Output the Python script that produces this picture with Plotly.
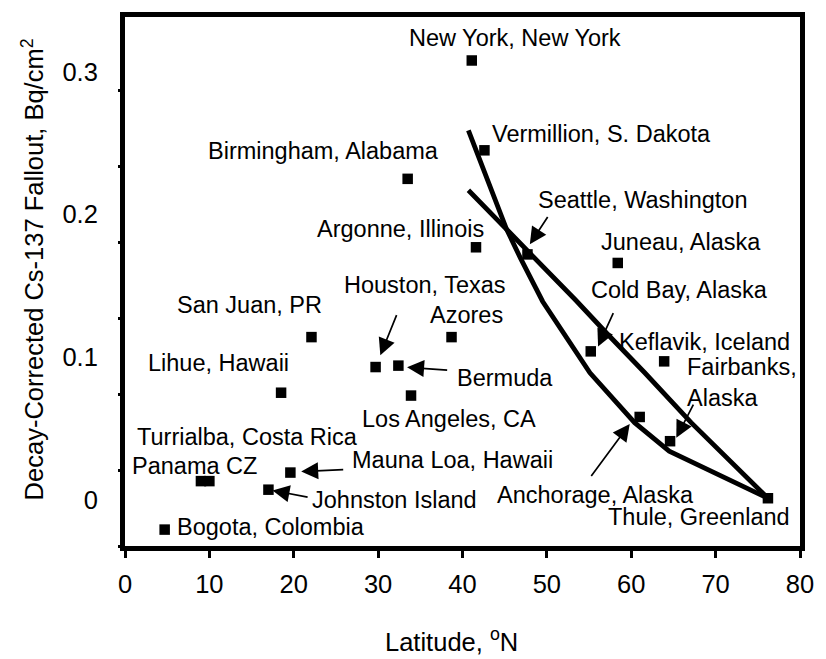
import plotly.graph_objects as go

# Monitoring sites: latitude (deg N) and decay-corrected Cs-137 fallout (Bq/cm^2)
sites = [
    "New York, New York", "Vermillion, S. Dakota", "Birmingham, Alabama",
    "Argonne, Illinois", "Seattle, Washington", "Juneau, Alaska",
    "San Juan, PR", "Azores", "Houston, Texas", "Bermuda", "Lihue, Hawaii",
    "Los Angeles, CA", "Cold Bay, Alaska", "Keflavik, Iceland",
    "Anchorage, Alaska", "Fairbanks, Alaska", "Mauna Loa, Hawaii",
    "Panama CZ", "Turrialba, Costa Rica", "Johnston Island",
    "Thule, Greenland", "Bogota, Colombia",
]
latitude = [41.1, 42.6, 33.5, 41.6, 47.7, 58.4,
            22.1, 38.7, 29.7, 32.4, 18.5,
            33.9, 55.2, 63.9,
            61.0, 64.6, 19.6,
            9.0, 10.0, 17.0,
            76.2, 4.7]
fallout = [0.308, 0.245, 0.225, 0.177, 0.172, 0.166,
           0.114, 0.114, 0.093, 0.094, 0.075,
           0.073, 0.104, 0.097,
           0.058, 0.041, 0.019,
           0.013, 0.013, 0.007,
           0.001, -0.021]

# Two bounding curves drawn through the high-latitude sites
curve_a_lat = [40.7, 42.8, 45.2, 46.9, 49.5, 55.1, 60.4, 64.5, 76.2]
curve_a_val = [0.259, 0.227, 0.190, 0.169, 0.139, 0.089, 0.054, 0.034, 0.001]
curve_b_lat = [40.7, 45.2, 47.9, 53.4, 57.2, 61.6, 67.1, 76.2]
curve_b_val = [0.217, 0.190, 0.174, 0.140, 0.116, 0.089, 0.054, 0.001]

x_ticks = [0, 10, 20, 30, 40, 50, 60, 70, 80]
y_ticks = [0, 0.1, 0.2, 0.3]
y_tick_text = ["0", "0.1", "0.2", "0.3"]

FONT = "Liberation Sans, Arial, Helvetica, sans-serif"
FS = 23.5        # in-plot site labels
FS_AX = 25.5     # tick labels and axis titles

fig = go.Figure()

for lat_c, val_c in ((curve_a_lat, curve_a_val), (curve_b_lat, curve_b_val)):
    fig.add_trace(go.Scatter(
        x=lat_c, y=val_c, mode="lines",
        line=dict(color="black", width=4.8),
        hoverinfo="skip", showlegend=False,
    ))

fig.add_trace(go.Scatter(
    x=latitude, y=fallout, mode="markers", text=sites,
    marker=dict(symbol="square", size=10.5, color="black",
                line=dict(width=0)),
    hovertemplate="%{text}<br>%{x}°N, %{y} Bq/cm²<extra></extra>",
    showlegend=False,
))

# Site labels: (text, x, y, xanchor)
labels = [
    ("New York, New York", 46.2, 0.3238, "center"),
    ("Vermillion, S. Dakota", 56.5, 0.2563, "center"),
    ("Birmingham, Alabama", 23.5, 0.2444, "center"),
    ("Seattle, Washington", 61.3, 0.2104, "center"),
    ("Argonne, Illinois", 32.6, 0.1895, "center"),
    ("Juneau, Alaska", 65.9, 0.1805, "center"),
    ("San Juan, PR", 14.7, 0.1367, "center"),
    ("Houston, Texas", 35.5, 0.1505, "center"),
    ("Azores", 40.5, 0.1297, "center"),
    ("Cold Bay, Alaska", 65.7, 0.1471, "center"),
    ("Lihue, Hawaii", 11.1, 0.0956, "center"),
    ("Keflavik, Iceland", 68.7, 0.1109, "center"),
    ("Bermuda", 39.1, 0.0851, "left"),
    ("Fairbanks,<br>Alaska", 66.4, 0.0823, "left"),
    ("Los Angeles, CA", 27.9, 0.0566, "left"),
    ("Turrialba, Costa Rica", 14.5, 0.0441, "center"),
    ("Panama CZ", 8.2, 0.0239, "center"),
    ("Mauna Loa, Hawaii", 26.7, 0.0280, "left"),
    ("Johnston Island", 31.9, -0.0005, "center"),
    ("Anchorage, Alaska", 55.8, 0.0030, "center"),
    ("Thule, Greenland", 68.0, -0.0123, "center"),
    ("Bogota, Colombia", 5.9, -0.0190, "left"),
]
for text, x, y, anchor in labels:
    fig.add_annotation(x=x, y=y, text=text, showarrow=False,
                       xanchor=anchor, yanchor="middle", align="left",
                       font=dict(family=FONT, size=FS, color="black"))

# Pointer arrows: (head x, head y, tail x, tail y)
arrows = [
    (30.26, 0.1012, 32.26, 0.1305),   # Houston
    (33.43, 0.0928, 38.36, 0.0907),   # Bermuda
    (20.88, 0.0197, 26.04, 0.0211),   # Mauna Loa
    (17.48, 0.0065, 21.82, 0.0016),   # Johnston Island
    (47.98, 0.1791, 50.21, 0.1993),   # Seattle
    (56.07, 0.1075, 57.95, 0.1319),   # Cold Bay
    (65.34, 0.0434, 67.45, 0.0677),   # Fairbanks
    (59.82, 0.0531, 55.13, 0.0155),   # Anchorage
]
for hx, hy, tx, ty in arrows:
    fig.add_annotation(x=hx, y=hy, ax=tx, ay=ty, axref="x", ayref="y",
                       text="", showarrow=True, arrowhead=2,
                       arrowsize=2.0, arrowwidth=1.7, arrowcolor="black",
                       standoff=0, startstandoff=0)

# Axis titles
fig.add_annotation(x=0.484, y=-0.178, xref="paper", yref="paper",
                   text="Latitude, <sup>o</sup>N", showarrow=False,
                   xanchor="center", yanchor="middle",
                   font=dict(family=FONT, size=FS_AX, color="black"))
fig.add_annotation(x=-0.137, y=0.522, xref="paper", yref="paper",
                   text="Decay-Corrected Cs-137 Fallout, Bq/cm<sup>2</sup>",
                   textangle=-90, showarrow=False,
                   xanchor="center", yanchor="middle",
                   font=dict(family=FONT, size=FS_AX, color="black"))

fig.update_layout(
    width=826, height=659,
    margin=dict(l=125, r=19, t=13, b=113),
    paper_bgcolor="white", plot_bgcolor="white",
    font=dict(family=FONT, size=FS_AX, color="black"),
    xaxis=dict(
        range=[0, 80], tickvals=x_ticks, ticks="outside", ticklen=7,
        tickwidth=3, tickcolor="black", showline=True, linewidth=5,
        linecolor="black", mirror=True, showgrid=False, zeroline=False,
        tickfont=dict(family=FONT, size=FS_AX, color="black"),
        ticklabelstandoff=4,
    ),
    yaxis=dict(
        range=[-0.0325, 0.3385], tickvals=y_ticks, ticktext=y_tick_text,
        ticks="", showline=True, linewidth=5, linecolor="black",
        mirror=True, showgrid=False, zeroline=False,
        tickfont=dict(family=FONT, size=FS_AX, color="black"),
        ticklabelstandoff=17,
    ),
    # tick-mark scale on the left spine
    yaxis2=dict(
        overlaying="y", side="left", range=[0, 6.967], tick0=0, dtick=1,
        ticks="outside", ticklen=6, tickwidth=3, tickcolor="black",
        showticklabels=False, showline=False, showgrid=False,
        zeroline=False,
    ),
)
# invisible trace so the tick-mark axis is rendered
fig.add_trace(go.Scatter(x=[0], y=[0], yaxis="y2", mode="markers",
                         marker=dict(opacity=0), hoverinfo="skip",
                         showlegend=False))

fig.write_html("out.html")
